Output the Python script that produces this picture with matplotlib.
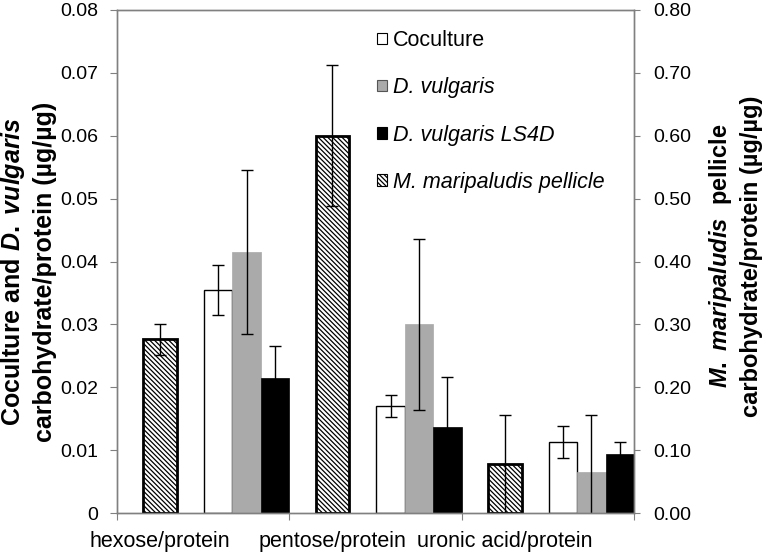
import numpy as np
import matplotlib
matplotlib.use("Agg")
import matplotlib.pyplot as plt
from matplotlib.patches import Patch
from matplotlib.ticker import FixedLocator, FuncFormatter

plt.rcParams['font.family'] = 'Liberation Sans'
plt.rcParams['mathtext.fontset'] = 'custom'
plt.rcParams['mathtext.rm'] = 'Liberation Sans:bold'
plt.rcParams['mathtext.it'] = 'Liberation Sans:italic:bold'
plt.rcParams['mathtext.bf'] = 'Liberation Sans:bold'
plt.rcParams['hatch.linewidth'] = 0.9

# ----------------------
# Data
# ----------------------
categories = ['hexose/protein', 'pentose/protein', 'uronic acid/protein']
coculture = [0.0355, 0.0170, 0.0113]
coculture_err = [0.0040, 0.0017, 0.0025]
dvulgaris = [0.0415, 0.0300, 0.0065]
dvulgaris_err = [0.0131, 0.0136, 0.0091]
ls4d = [0.0215, 0.0137, 0.0094]
ls4d_err = [0.0050, 0.0080, 0.0019]
pellicle = [0.276, 0.600, 0.078]          # right axis
pellicle_err = [0.024, 0.112, 0.078]

# ----------------------
# Layout
# ----------------------
W, H = 762, 554
fig = plt.figure(figsize=(W / 100, H / 100), dpi=100)
ax = fig.add_axes([117 / W, 1 - 513 / H, (634 - 117) / W, (513 - 10) / H])
ax2 = ax.twinx()

x = np.arange(len(categories))
bw = 0.165
hatch = '\\' * 7
err_kw = dict(elinewidth=1, capthick=1, ecolor='black')

ax.bar(x + 0.5875, coculture, bw, yerr=coculture_err, capsize=4, color='white',
       edgecolor='black', linewidth=1, error_kw=err_kw)
ax.bar(x + 0.7525, dvulgaris, bw, yerr=dvulgaris_err, capsize=4, color='#aaaaaa',
       edgecolor='#aaaaaa', linewidth=0.5, error_kw=err_kw)
ax.bar(x + 0.9175, ls4d, bw, yerr=ls4d_err, capsize=4, color='black',
       edgecolor='black', linewidth=0.5, error_kw=err_kw)
ax2.bar(x + 0.25, pellicle, 0.195, yerr=pellicle_err, capsize=4, color='white',
        edgecolor='black', linewidth=2, hatch=hatch, error_kw=err_kw)

ax.set_xlim(0, 3)
ax.set_ylim(0, 0.08)
ax2.set_ylim(0, 0.8)
ax.set_yticks(np.arange(0, 0.081, 0.01))
ax2.set_yticks(np.arange(0, 0.81, 0.1))
ax.yaxis.set_major_formatter(FuncFormatter(lambda v, p: '0' if abs(v) < 1e-9 else f'{v:.2f}'))
ax2.yaxis.set_major_formatter(FuncFormatter(lambda v, p: f'{v:.2f}'))

# category boundaries as major ticks, labels as minor ticks
ax.xaxis.set_major_locator(FixedLocator([0, 1, 2, 3]))
ax.set_xticklabels([])
ax.xaxis.set_minor_locator(FixedLocator(x + 0.25))
ax.set_xticklabels(categories, minor=True, fontsize=15.5)
ax.tick_params(axis='x', which='minor', length=0, pad=13)
ax.tick_params(axis='x', which='major', length=5, color='#808080', direction='out')
ax.tick_params(axis='y', length=5, color='#808080', labelsize=14, pad=8.5)
ax2.tick_params(axis='y', length=4, color='#808080', labelsize=14, pad=10)

for a in (ax, ax2):
    for s in a.spines.values():
        s.set_color('#808080')
        s.set_linewidth(1)

# ----------------------
# Axis titles
# ----------------------
fig.text(28 / W, 1 - 272 / H,
         r'Coculture and $\mathit{D.\ vulgaris}$' + '\ncarbohydrate/protein (µg/µg)',
         rotation=90, ha='center', va='center', ma='center',
         fontsize=18, fontweight='bold', linespacing=1.3)
fig.text(735 / W, 1 - 256 / H,
         r'$\mathit{M.\ maripaludis}$  pellicle' + '\ncarbohydrate/protein (µg/µg)',
         rotation=90, ha='center', va='center', ma='center',
         fontsize=17, fontweight='bold', linespacing=1.3)

# ----------------------
# Legend
# ----------------------
handles = [
    Patch(facecolor='white', edgecolor='black', linewidth=0.8),
    Patch(facecolor='#aaaaaa', edgecolor='#555555', linewidth=0.8),
    Patch(facecolor='black', edgecolor='black', linewidth=0.8),
    Patch(facecolor='white', edgecolor='black', linewidth=0.8, hatch=hatch),
]
labels = ['Coculture', 'D. vulgaris', 'D. vulgaris LS4D', 'M. maripaludis pellicle']
leg = ax2.legend(handles, labels, loc='upper left', bbox_to_anchor=(377 / W, 1 - 30 / H),
                 bbox_transform=fig.transFigure, frameon=False, fontsize=15.5,
                 handlelength=0.45, handleheight=0.45, handletextpad=0.3,
                 labelspacing=1.22, borderpad=0, borderaxespad=0)
for t in leg.get_texts()[1:]:
    t.set_fontstyle('italic')

fig.savefig('out.png', dpi=100)
